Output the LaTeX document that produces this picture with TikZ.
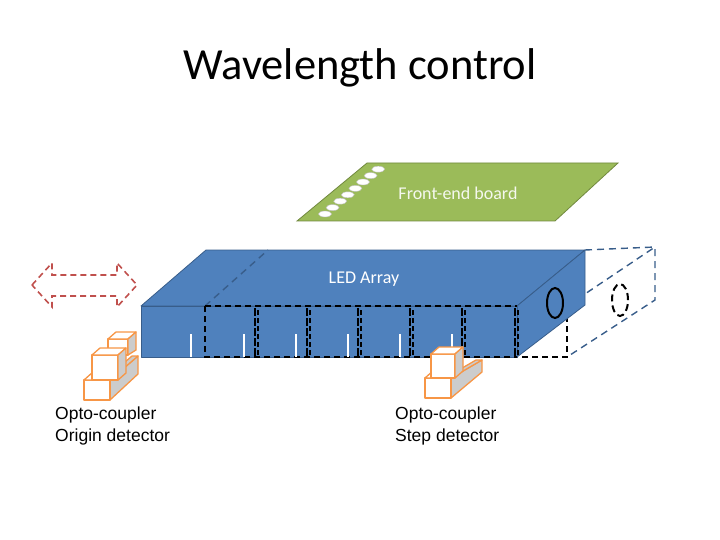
\documentclass[tikz,border=0pt]{standalone}
\usepackage{fontspec}
\setmainfont{Carlito}
\newfontfamily\arialf{Liberation Sans}
\definecolor{bfill}{RGB}{79,129,189}
\definecolor{bedge}{RGB}{56,93,138}
\definecolor{gfill}{RGB}{155,187,89}
\definecolor{gedge}{RGB}{113,137,63}
\definecolor{orng}{RGB}{247,150,70}
\definecolor{redd}{RGB}{192,80,77}
\begin{document}
\begin{tikzpicture}[x=1pt,y=-1pt,
  face/.style={fill=bfill,draw=bedge,line width=0.8pt,line join=round},
  dsh/.style={draw=black,line width=1.4pt,dash pattern=on 6pt off 4pt},
  bdsh/.style={draw=bedge,line width=1.4pt,dash pattern=on 7pt off 5pt},
  ob/.style={draw=orng,line width=1.3pt,fill=white,line join=round},
  og/.style={draw=orng,line width=1.3pt,fill=black!20,line join=round},
  lbl/.style={font=\arialf\fontsize{17.5}{21.5}\selectfont,align=left,anchor=north west,inner sep=0pt}]
\useasboundingbox (0,0) rectangle (720,540);
\node (title) at (360,68) {\fontsize{44.5}{48}\selectfont Wavelength control};
% board
\path[fill=gfill,draw=gedge,line width=0.8pt] (297,221) -- (367,163) -- (618,163) -- (555,221) -- cycle;
\foreach \i in {0,...,7}{
  \path[fill=white,draw=black!25] ({325+\i*7.6},{214-\i*6.4}) ellipse (6.5pt and 3pt);}
\node[text=white!90!gfill,font=\fontsize{18}{20}\selectfont] (fe) at (458,193) {Front-end board};
% dashed extension box
\draw[bdsh] (567,306) -- (655,247) -- (655,300) -- (567,357);
\draw[bdsh] (585,250) -- (655,247);
\draw[dsh] (517,306) -- (567,306) -- (567,357) -- (517,357);
% LED box
\path[face] (141,306) -- (206,250) -- (585,250) -- (517,306) -- cycle;
\path[face] (517,306) -- (585,250) -- (585,305) -- (517,357) -- cycle;
\path[face] (141,306) rectangle (517,357);
\node[text=white,font=\fontsize{18}{20}\selectfont] (led) at (364,279) {LED Array};
\draw[bdsh] (205,306) -- (268,250);
\draw[dsh] (205,306) -- (517,306);
\draw[dsh] (205,306) -- (205,357) -- (517,357);
\foreach \x in {255,307,358,410,462,515}{
  \draw[black,line width=1.1pt,dash pattern=on 8pt off 2pt] (\x,308) -- (\x,357);
  \draw[black,line width=1.1pt,dash pattern=on 5pt off 3pt] (\x+3,310) -- (\x+3,357);}
\foreach \x in {191,244,296,348,400,452}{
  \draw[white,line width=1.6pt] (\x,334) -- (\x,357);}
\draw[black,line width=2pt] (555,303) ellipse (8pt and 15pt);
\draw[black,line width=2pt,dash pattern=on 7pt off 4pt] (620,300) ellipse (8pt and 16pt);
% red dashed double arrow
\draw[redd,line width=1.6pt,dash pattern=on 6pt off 4pt,line join=miter]
  (32,285) -- (52,263) -- (52,275) -- (117,275) -- (117,263) -- (137,285)
  -- (117,307) -- (117,296) -- (52,296) -- (52,307) -- cycle;
% origin coupler
\begin{scope}[shift={(84,400)}]
  \path[og] (26,0) -- (54,-26) -- (54,-44) -- (26,-20) -- cycle;
  \path[og] (26,-20) -- (54,-44) -- (48,-44) -- (20,-20) -- cycle;
  \path[ob] (0,0) rectangle (26,-20);
  \path[ob] (0,-20) -- (9,-28) -- (35,-28) -- (26,-20) -- cycle;
  \path[ob] (24,-45) rectangle (44,-61);
  \path[ob] (24,-61) -- (32,-68) -- (52,-68) -- (44,-61) -- cycle;
  \path[og] (44,-45) -- (52,-50) -- (52,-68) -- (44,-61) -- cycle;
  \path[ob] (8,-20) rectangle (34,-45);
  \path[ob] (8,-45) -- (16,-52) -- (42,-52) -- (34,-45) -- cycle;
  \path[og] (34,-20) -- (42,-27) -- (42,-52) -- (34,-45) -- cycle;
\end{scope}
% step coupler
\begin{scope}[shift={(425,398)}]
  \path[og] (26,0) -- (57,-26) -- (57,-38) -- (26,-20) -- cycle;
  \path[og] (26,-20) -- (57,-38) -- (51,-38) -- (20,-20) -- cycle;
  \path[ob] (0,0) rectangle (26,-20);
  \path[ob] (0,-20) -- (9,-28) -- (35,-28) -- (26,-20) -- cycle;
  \path[ob] (6,-20) rectangle (30,-44);
  \path[ob] (6,-44) -- (14,-51) -- (38,-51) -- (30,-44) -- cycle;
  \path[og] (30,-20) -- (38,-27) -- (38,-51) -- (30,-44) -- cycle;
\end{scope}
\node[lbl] (o1) at (55,407) {Opto-coupler\\Origin detector};
\node[lbl] (o2) at (395,407) {Opto-coupler\\Step detector};
\end{tikzpicture}
\end{document}
